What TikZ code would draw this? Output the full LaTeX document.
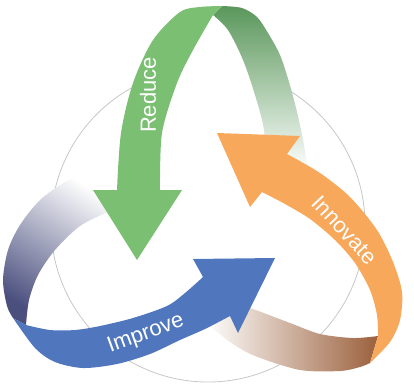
\documentclass[tikz,border=0pt]{standalone}
\usepackage{fontspec}
\setmainfont{Liberation Sans}
\usepackage{tikz}

\definecolor{greenfront}{HTML}{7BBF72}
\definecolor{greenback}{HTML}{5A975B}
\definecolor{bluefront}{HTML}{5077BD}
\definecolor{blueback}{HTML}{4A4F7E}
\definecolor{orangefront}{HTML}{F7A85B}
\definecolor{orangeback}{HTML}{9B603C}

\begin{document}
\begin{tikzpicture}[x=1pt, y=-1pt, % pixel like coordinates
	line join=round,
	ring/.style={draw=black!22, line width=.8pt}, % thin circle behind
	every node/.style={text=white, font=\fontsize{22}{26}\selectfont}]
	\useasboundingbox (0,0) rectangle (414,388);

	% circle and the white inside of the arch
	\draw[ring] (208,225) circle[radius=157];
	\fill[white] plot[smooth] coordinates {(160,200) (162,133) (177,83) (193,50) (213,15) (228,30) (243,60) (255,95) (264,130) (266,200)} -- cycle;

	% back sides of the ribbons
	\shade[bottom color=blueback, middle color=blueback!55, top color=white, shading angle=-32]
		plot[smooth] coordinates {(13,318) (7,306) (3,280) (8,250) (20,225) (40,200) (65,182) (92,168)}
		-- plot[smooth] coordinates {(108,212) (80,226) (55,250) (38,275) (29,300) (26,325)} -- cycle;
	\shade[left color=white, middle color=orangeback!60, right color=orangeback]
		plot[smooth] coordinates {(378,336) (353,338) (320,334) (290,323) (250,308) (205,294)}
		-- plot[smooth] coordinates {(205,322) (230,342) (255,356) (300,370) (340,371) (360,367) (370,363)} -- cycle;
	\shade[top color=greenback, middle color=greenfront!80, bottom color=white]
		plot[smooth] coordinates {(222,6) (242,8) (257,17) (268,33) (280,55) (289,82) (297,112) (304,145) (308,172)}
		-- plot[smooth] coordinates {(266,172) (264,130) (255,95) (243,60) (228,30) (213,15)} -- cycle;

	% front sides with the heads
	\fill[greenfront] plot[smooth] coordinates {(222,6) (200,7) (180,12) (153,40) (133,83) (121,133) (117,190)}
		-- (93,190) -- (137,260) -- (182,190)
		-- plot[smooth] coordinates {(160,190) (162,133) (177,83) (193,50) (213,15)} -- cycle;
	\fill[bluefront] plot[smooth] coordinates {(26,325) (50,330) (75,330) (100,326) (133,318) (167,306) (185,293) (203,277)}
		-- (193,259) -- (275,258) -- (238,333)
		-- plot[smooth] coordinates {(230,316) (205,329) (180,340) (150,354) (117,364) (83,368) (55,362) (35,348) (13,318)} -- cycle;
	\fill[orangefront] (217,133) -- (300,136)
		-- plot[smooth] coordinates {(287,154) (320,173) (350,197) (377,230) (393,262) (402,292) (400,320) (390,342) (370,363)}
		-- plot[smooth] coordinates {(378,336) (377,315) (370,290) (355,263) (335,240) (310,219) (285,204) (262,192)}
		-- (250,207) -- cycle;

	% labels
	\node[rotate=90] (reduce) at (148,95) {Reduce};
	\node[rotate=20] (improve) at (146,334) {Improve};
	\node[rotate=-47] (innovate) at (345,230) {Innovate};
\end{tikzpicture}
\end{document}
